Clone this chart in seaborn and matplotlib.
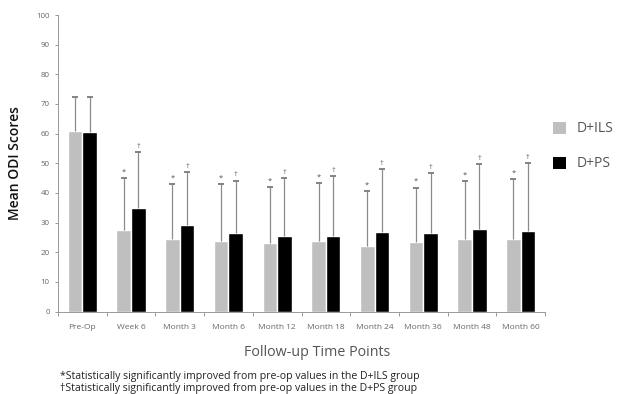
import matplotlib
matplotlib.use("Agg")
import matplotlib.pyplot as plt
import seaborn as sns
import pandas as pd
import numpy as np

time_points = ["Pre-Op", "Week 6", "Month 3", "Month 6", "Month 12",
               "Month 18", "Month 24", "Month 36", "Month 48", "Month 60"]
ils_mean = [60.8, 27.5, 24.6, 23.7, 23.0, 23.9, 22.1, 23.5, 24.6, 24.4]
ils_sd = [11.7, 17.5, 18.3, 19.3, 19.1, 19.5, 18.5, 18.3, 19.5, 20.2]
ps_mean = [60.6, 35.0, 29.3, 26.4, 25.5, 25.5, 26.8, 26.4, 27.7, 27.3]
ps_sd = [11.9, 18.7, 17.6, 17.7, 19.4, 20.2, 21.2, 20.3, 21.9, 22.7]
ils_mark = ["", "*", "*", "*", "*", "*", "*", "*", "*", "*"]
ps_mark = ["", "†", "†", "†", "†", "†", "†", "†", "†", "†"]
groups = ["D+ILS", "D+PS"]

df = pd.DataFrame({
    "time": time_points * 2,
    "group": [groups[0]] * len(time_points) + [groups[1]] * len(time_points),
    "score": ils_mean + ps_mean,
})

sns.set_style("white")
plt.rcParams["font.family"] = ["Open Sans", "DejaVu Sans"]

fig = plt.figure(figsize=(6.21, 3.94), dpi=100)
ax = fig.add_axes([58 / 621, 1 - 311.5 / 394, 487 / 621, 296.5 / 394])

sns.barplot(data=df, x="time", y="score", hue="group", order=time_points,
            hue_order=groups, palette=["#bfbfbf", "#000000"], width=0.6,
            saturation=1, ax=ax, legend=False)

# upper error bars and significance marks, placed on the drawn bars
n = len(time_points)
patches = ax.patches
for j, (means, sds, marks) in enumerate([(ils_mean, ils_sd, ils_mark),
                                          (ps_mean, ps_sd, ps_mark)]):
    for i in range(n):
        p = patches[j * n + i]
        xc = p.get_x() + p.get_width() / 2
        top = means[i] + sds[i]
        ax.vlines(xc, means[i], top, color="#8c8c8c", linewidth=0.9, zorder=3)
        ax.plot([xc], [top], marker="_", markersize=4.5, mew=1.3,
                color="#7a7a7a", zorder=3)
        if marks[i]:
            ax.text(xc, top + 0.8, marks[i], ha="center", va="bottom",
                    fontsize=5.5, color="#555555")

ax.set_ylim(0, 100)
ax.set_xlim(-0.5, n - 0.5)
ax.set_yticks(range(0, 101, 10))
ax.tick_params(axis="y", labelsize=5.7, labelcolor="#666666", length=2.5,
               color="#888888", left=True, width=0.6)
ax.set_xticks(np.arange(-0.5, n, 1), minor=True)
ax.set_xticks(range(n))
ax.set_xticklabels(time_points, fontsize=6, color="#666666")
ax.tick_params(axis="x", which="major", length=0, pad=9)
ax.tick_params(axis="x", which="minor", length=3, color="#888888",
               bottom=True, width=0.6)
for s in ["top", "right"]:
    ax.spines[s].set_visible(False)
ax.spines["left"].set_color("#999999")
ax.spines["bottom"].set_color("#999999")
ax.spines["left"].set_linewidth(0.7)
ax.spines["bottom"].set_linewidth(0.7)

ax.set_ylabel("Mean ODI Scores", fontsize=10, color="#111111",
              fontweight="semibold", labelpad=10)
ax.set_xlabel("")
fig.text(317 / 621, 1 - 353 / 394, "Follow-up Time Points", ha="center",
         va="center", fontsize=10.3, color="#555555")
fig.text(60 / 621, 1 - 376 / 394,
         "*Statistically significantly improved from pre-op values in the D+ILS group",
         ha="left", va="center", fontsize=7.6, color="#222222")
fig.text(60 / 621, 1 - 388 / 394,
         "†Statistically significantly improved from pre-op values in the D+PS group",
         ha="left", va="center", fontsize=7.6, color="#222222")

# legend
for k, (name, col) in enumerate(zip(groups, ["#bfbfbf", "#000000"])):
    yc = 128 + k * 35
    fig.patches.append(plt.Rectangle((553 / 621, 1 - (yc + 6) / 394), 13 / 621,
                                     12 / 394, transform=fig.transFigure,
                                     facecolor=col, edgecolor="none"))
    fig.text(577 / 621, 1 - yc / 394, name, ha="left", va="center",
             fontsize=10, color="#555555")

fig.savefig("out.png", dpi=100)
